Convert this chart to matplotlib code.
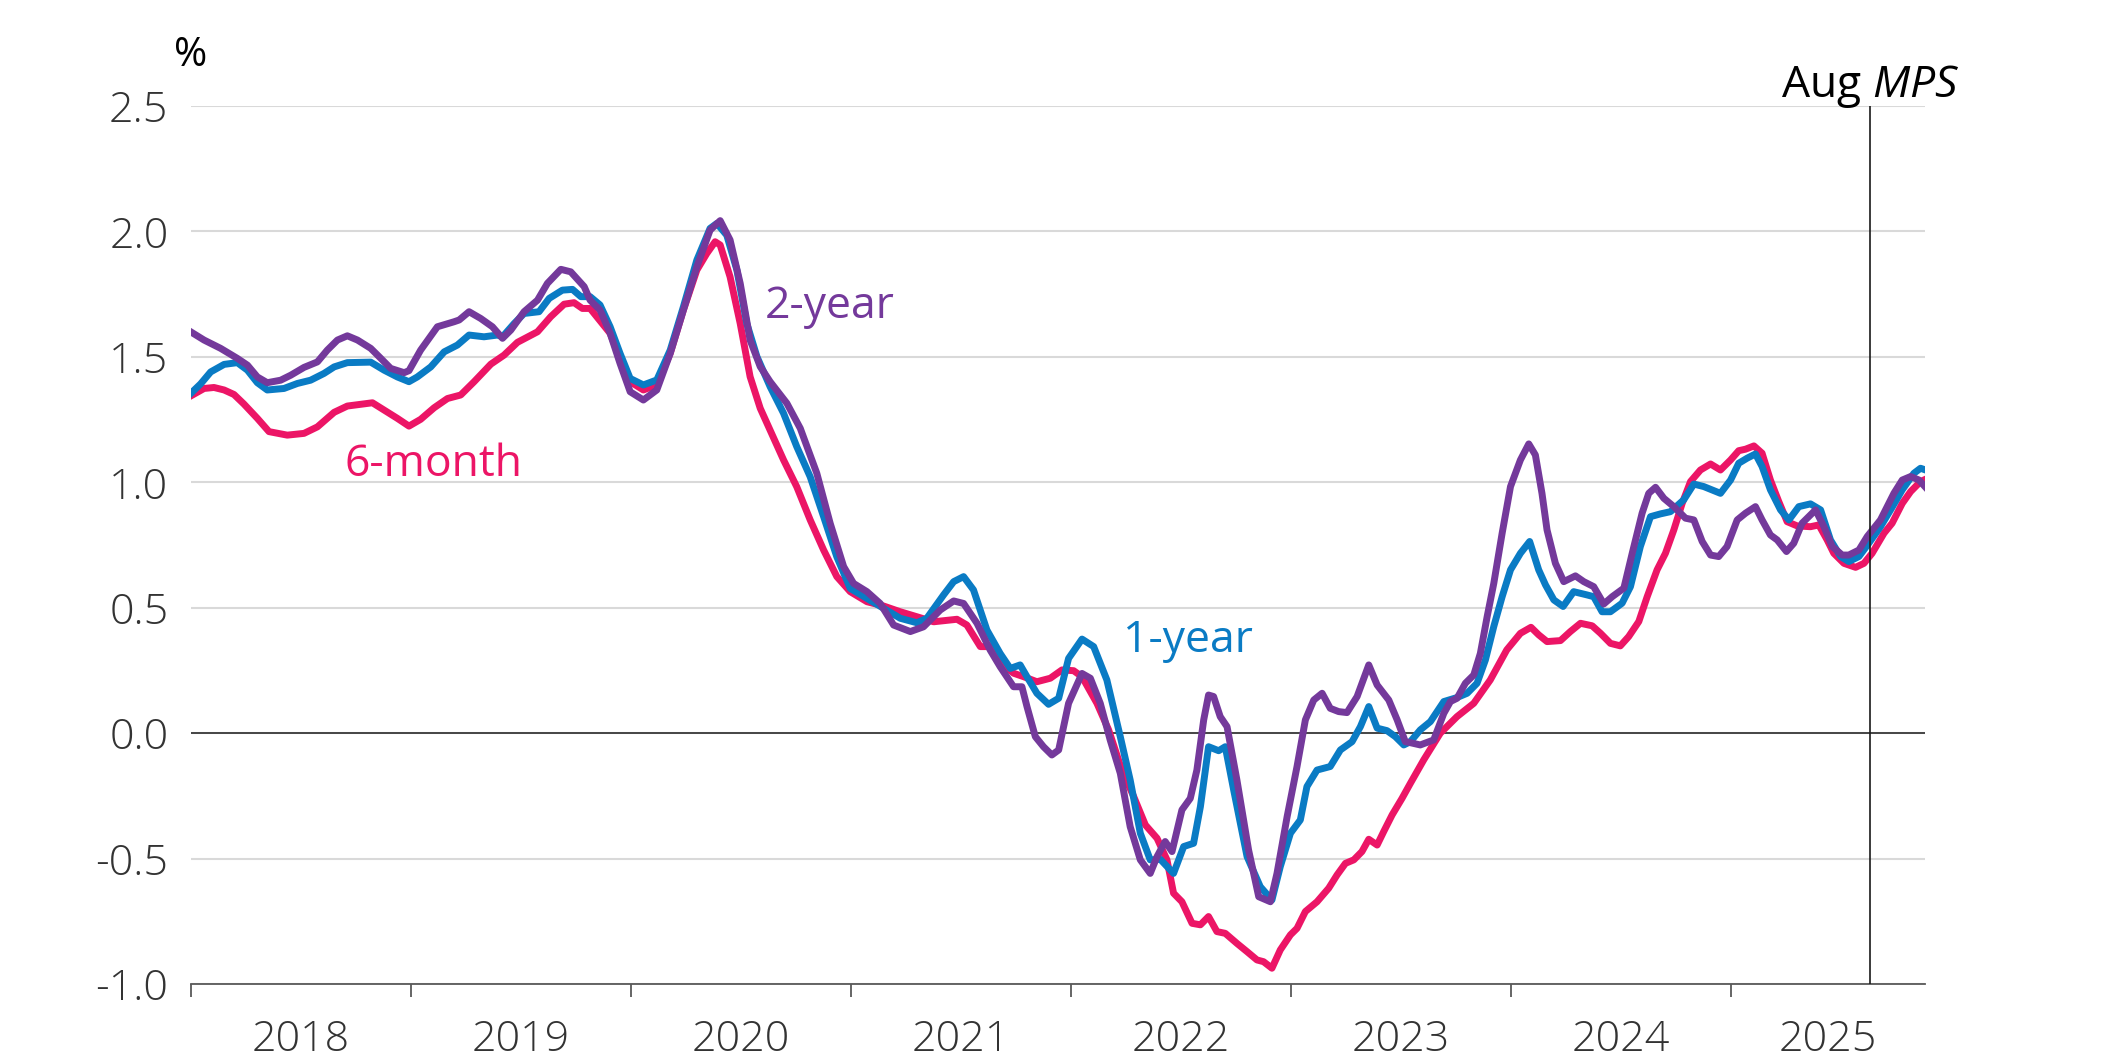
import matplotlib
matplotlib.use("Agg")
import matplotlib.pyplot as plt

plt.rcParams['font.family'] = ['Open Sans', 'DejaVu Sans']
plt.rcParams['mathtext.fontset'] = 'custom'
plt.rcParams['mathtext.rm'] = 'Open Sans'
plt.rcParams['mathtext.it'] = 'Open Sans:italic'

# 6-month series (decimal years, %)
t_6m = [2018.0, 2018.061, 2018.106, 2018.152, 2018.197, 2018.242, 2018.303, 2018.356, 2018.439, 2018.515,
        2018.576, 2018.652, 2018.712, 2018.826, 2018.879, 2018.939, 2018.992, 2019.045, 2019.106, 2019.167,
        2019.227, 2019.288, 2019.364, 2019.424, 2019.485, 2019.576, 2019.636, 2019.697, 2019.742, 2019.780,
        2019.815, 2019.906, 2019.951, 2019.997, 2020.057, 2020.118, 2020.179, 2020.239, 2020.300, 2020.345,
        2020.383, 2020.406, 2020.451, 2020.497, 2020.542, 2020.588, 2020.633, 2020.694, 2020.754, 2020.815,
        2020.876, 2020.936, 2020.997, 2021.073, 2021.148, 2021.224, 2021.300, 2021.376, 2021.482, 2021.527,
        2021.588,
        2021.633, 2021.694, 2021.739, 2021.785, 2021.845, 2021.906, 2021.959, 2022.012, 2022.050, 2022.118,
        2022.171, 2022.231, 2022.285, 2022.338, 2022.391, 2022.436, 2022.466, 2022.504, 2022.550, 2022.588,
        2022.625, 2022.663, 2022.701, 2022.754, 2022.800, 2022.845, 2022.875, 2022.913, 2022.951, 2022.997,
        2023.027, 2023.065, 2023.118, 2023.171, 2023.209, 2023.247, 2023.285, 2023.322, 2023.353, 2023.391,
        2023.421, 2023.459, 2023.504, 2023.542,
        2023.603, 2023.678, 2023.754, 2023.830, 2023.905, 2023.980,
        2024.042, 2024.090, 2024.125, 2024.163, 2024.224, 2024.269, 2024.315, 2024.368, 2024.406, 2024.451,
        2024.496, 2024.534, 2024.580, 2024.618, 2024.663, 2024.701, 2024.739, 2024.777, 2024.815, 2024.860,
        2024.906, 2024.951, 2024.997, 2025.034, 2025.065, 2025.103, 2025.140, 2025.178, 2025.216, 2025.254,
        2025.300, 2025.360, 2025.398, 2025.436, 2025.466, 2025.512, 2025.565, 2025.603, 2025.640, 2025.694,
        2025.731, 2025.777, 2025.815, 2025.860, 2025.875]
v_6m = [1.344, 1.374, 1.378, 1.368, 1.35, 1.312, 1.255, 1.202, 1.188, 1.195,
        1.221, 1.279, 1.304, 1.317, 1.288, 1.255, 1.224, 1.251, 1.297, 1.334,
        1.348, 1.401, 1.471, 1.507, 1.558, 1.60, 1.66, 1.71, 1.716, 1.693,
        1.693, 1.594, 1.494, 1.401, 1.368, 1.388, 1.514, 1.687, 1.846, 1.912,
        1.959, 1.946, 1.819, 1.633, 1.421, 1.295, 1.208, 1.089, 0.982, 0.85,
        0.73, 0.624, 0.564, 0.524, 0.507, 0.484, 0.464, 0.444, 0.454, 0.431,
        0.345,
        0.345, 0.272, 0.239, 0.225, 0.205, 0.219, 0.252, 0.249, 0.225, 0.119,
        0.013, -0.147, -0.253, -0.366, -0.419, -0.505, -0.638, -0.672, -0.758, -0.764,
        -0.731, -0.791, -0.798, -0.838, -0.871, -0.904, -0.911, -0.937, -0.864, -0.804,
        -0.778, -0.711, -0.672, -0.618, -0.565, -0.519, -0.505, -0.472, -0.423, -0.446,
        -0.392, -0.326, -0.26, -0.2,
        -0.106, 0.0, 0.066, 0.119, 0.212, 0.332,
        0.398, 0.422, 0.392, 0.365, 0.369, 0.405, 0.438, 0.428, 0.398, 0.358,
        0.348, 0.385, 0.445, 0.544, 0.651, 0.717, 0.81, 0.916, 1.003, 1.049,
        1.073, 1.049, 1.089, 1.126, 1.132, 1.145, 1.116, 1.009, 0.923, 0.843,
        0.826, 0.823, 0.83, 0.77, 0.717, 0.677, 0.661, 0.677, 0.717, 0.797,
        0.837, 0.916, 0.963, 1.003, 1.009]

# 1-year series
t_1y = [2018.0, 2018.045, 2018.091, 2018.152, 2018.212, 2018.258, 2018.303, 2018.348, 2018.424, 2018.485,
        2018.545, 2018.606, 2018.652, 2018.712, 2018.818, 2018.879, 2018.939, 2018.992, 2019.030, 2019.091,
        2019.152, 2019.212, 2019.265, 2019.333, 2019.394, 2019.417, 2019.470, 2019.515, 2019.583, 2019.629,
        2019.689, 2019.735, 2019.773,
        2019.815, 2019.860, 2019.906, 2019.951, 2019.997, 2020.057, 2020.118, 2020.179, 2020.239, 2020.300,
        2020.360, 2020.391, 2020.436, 2020.482, 2020.527, 2020.573, 2020.633, 2020.694, 2020.754, 2020.815,
        2020.876, 2020.936, 2020.997, 2021.073, 2021.148, 2021.224, 2021.300, 2021.345, 2021.421, 2021.467,
        2021.512, 2021.557, 2021.618,
        2021.678, 2021.724, 2021.769, 2021.800, 2021.845, 2021.898, 2021.944, 2021.989, 2022.050, 2022.103,
        2022.163, 2022.224, 2022.269, 2022.315, 2022.360, 2022.406, 2022.466, 2022.512, 2022.557, 2022.588,
        2022.625, 2022.671, 2022.701, 2022.739, 2022.800, 2022.860, 2022.913, 2022.951, 2022.997, 2023.042,
        2023.072, 2023.118, 2023.178, 2023.224, 2023.277, 2023.315, 2023.353, 2023.391, 2023.436, 2023.474,
        2023.512, 2023.542,
        2023.587, 2023.633, 2023.694, 2023.754, 2023.800, 2023.845, 2023.883, 2023.921, 2023.959, 2023.997,
        2024.042, 2024.084, 2024.125, 2024.156, 2024.194, 2024.236, 2024.284, 2024.345, 2024.375, 2024.413,
        2024.451, 2024.504, 2024.542, 2024.587, 2024.633, 2024.678, 2024.724, 2024.784, 2024.830, 2024.875,
        2024.951, 2024.997, 2025.034, 2025.072, 2025.110, 2025.140, 2025.178, 2025.224, 2025.262, 2025.307,
        2025.360, 2025.406, 2025.451, 2025.497, 2025.534, 2025.580, 2025.625, 2025.678, 2025.724, 2025.777,
        2025.830, 2025.860, 2025.883]
v_1y = [1.354, 1.392, 1.44, 1.47, 1.477, 1.447, 1.397, 1.368, 1.374, 1.394,
        1.407, 1.434, 1.46, 1.477, 1.479, 1.447, 1.42, 1.401, 1.42, 1.46,
        1.52, 1.547, 1.587, 1.58, 1.587, 1.58, 1.633, 1.673, 1.68, 1.733,
        1.766, 1.769, 1.74,
        1.74, 1.707, 1.62, 1.514, 1.414, 1.388, 1.408, 1.527, 1.70, 1.886,
        2.012, 2.032, 1.985, 1.846, 1.633, 1.501, 1.381, 1.275, 1.142, 1.022,
        0.863, 0.703, 0.577, 0.537, 0.498, 0.458, 0.44, 0.458, 0.551, 0.604,
        0.624, 0.571, 0.411,
        0.318, 0.258, 0.272, 0.225, 0.159, 0.115, 0.139, 0.298, 0.375, 0.345,
        0.212, -0.014, -0.187, -0.399, -0.505, -0.503, -0.559, -0.452, -0.439, -0.293,
        -0.054, -0.07, -0.054, -0.226, -0.492, -0.612, -0.665, -0.532, -0.399, -0.346,
        -0.213, -0.147, -0.133, -0.067, -0.034, 0.026, 0.106, 0.02, 0.01, -0.014,
        -0.047, -0.034,
        0.013, 0.046, 0.126, 0.142, 0.159, 0.199, 0.292, 0.425, 0.544, 0.651,
        0.717, 0.764, 0.651, 0.591, 0.531, 0.505, 0.564, 0.551, 0.544, 0.484,
        0.484, 0.518, 0.584, 0.744, 0.863, 0.874, 0.883, 0.93, 0.993, 0.983,
        0.956, 1.009, 1.076, 1.096, 1.113, 1.063, 0.97, 0.89, 0.85, 0.903,
        0.914, 0.89, 0.77, 0.704, 0.684, 0.704, 0.757, 0.823, 0.89, 0.97,
        1.036, 1.056, 1.049]

# 2-year series
t_2y = [2018.0, 2018.061, 2018.136, 2018.212, 2018.258, 2018.303, 2018.348, 2018.409, 2018.455, 2018.515,
        2018.576, 2018.621, 2018.667, 2018.712, 2018.758, 2018.818, 2018.864, 2018.909, 2018.970, 2018.992,
        2019.045, 2019.121, 2019.197, 2019.220, 2019.265, 2019.318, 2019.371, 2019.417, 2019.455, 2019.515,
        2019.576, 2019.621, 2019.682, 2019.727, 2019.788,
        2019.815, 2019.860, 2019.906, 2019.951, 2019.997, 2020.057, 2020.118, 2020.179, 2020.239, 2020.300,
        2020.360, 2020.406, 2020.451, 2020.497, 2020.542, 2020.588, 2020.633, 2020.709, 2020.770, 2020.845,
        2020.906, 2020.967, 2021.012, 2021.073, 2021.133, 2021.194, 2021.270, 2021.330, 2021.406, 2021.467,
        2021.512, 2021.573, 2021.633,
        2021.678, 2021.739, 2021.777, 2021.800, 2021.838, 2021.875, 2021.913, 2021.944, 2021.989, 2022.050,
        2022.088, 2022.133, 2022.178, 2022.224, 2022.269, 2022.315, 2022.360, 2022.391, 2022.428, 2022.459,
        2022.504, 2022.542, 2022.572, 2022.603, 2022.625, 2022.648, 2022.678, 2022.709, 2022.754, 2022.807,
        2022.853, 2022.906, 2022.936, 2022.982, 2023.027, 2023.065, 2023.103, 2023.141, 2023.178, 2023.216,
        2023.254, 2023.300, 2023.353, 2023.391, 2023.444, 2023.482, 2023.519, 2023.542,
        2023.587, 2023.648, 2023.694, 2023.724, 2023.754, 2023.792, 2023.830, 2023.860, 2023.891, 2023.921,
        2023.959, 2023.997, 2024.042, 2024.080, 2024.110, 2024.140, 2024.163, 2024.201, 2024.239, 2024.292,
        2024.330, 2024.375, 2024.421, 2024.459, 2024.512, 2024.550, 2024.595, 2024.625, 2024.656, 2024.694,
        2024.739, 2024.792, 2024.830, 2024.868, 2024.906, 2024.943, 2024.981, 2025.027, 2025.065, 2025.110,
        2025.140, 2025.178, 2025.209, 2025.251, 2025.284, 2025.322, 2025.383, 2025.421, 2025.459, 2025.504,
        2025.534, 2025.580, 2025.618, 2025.678, 2025.739, 2025.777, 2025.815, 2025.853, 2025.883]
v_2y = [1.60, 1.567, 1.534, 1.494, 1.467, 1.42, 1.397, 1.407, 1.427, 1.458,
        1.48, 1.527, 1.567, 1.584, 1.567, 1.534, 1.494, 1.454, 1.437, 1.445,
        1.527, 1.62, 1.64, 1.647, 1.68, 1.653, 1.62, 1.574, 1.607, 1.68,
        1.726, 1.793, 1.849, 1.839, 1.78,
        1.726, 1.687, 1.594, 1.474, 1.361, 1.328, 1.368, 1.514, 1.687, 1.859,
        2.005, 2.043, 1.966, 1.793, 1.567, 1.461, 1.401, 1.315, 1.215, 1.036,
        0.836, 0.664, 0.597, 0.564, 0.517, 0.431, 0.405, 0.424, 0.491, 0.527,
        0.517, 0.438, 0.331,
        0.265, 0.185, 0.185, 0.106, -0.014, -0.054, -0.087, -0.067, 0.119, 0.238,
        0.219, 0.119, -0.027, -0.16, -0.373, -0.505, -0.559, -0.492, -0.432, -0.472,
        -0.306, -0.26, -0.147, 0.053, 0.152, 0.146, 0.066, 0.026, -0.187, -0.466,
        -0.652, -0.672, -0.559, -0.333, -0.133, 0.053, 0.132, 0.159, 0.099, 0.086,
        0.082, 0.146, 0.272, 0.192, 0.132, 0.053, -0.034, -0.038,
        -0.047, -0.027, 0.079, 0.126, 0.139, 0.199, 0.232, 0.318, 0.465, 0.597,
        0.797, 0.983, 1.089, 1.153, 1.109, 0.956, 0.81, 0.677, 0.604, 0.627,
        0.604, 0.584, 0.515, 0.544, 0.578, 0.717, 0.877, 0.956, 0.98, 0.936,
        0.903, 0.857, 0.85, 0.764, 0.71, 0.704, 0.744, 0.85, 0.877, 0.903,
        0.85, 0.79, 0.77, 0.724, 0.757, 0.837, 0.89, 0.823, 0.744, 0.71,
        0.71, 0.73, 0.784, 0.85, 0.956, 1.009, 1.023, 1.009, 0.98]

years = ['2018', '2019', '2020', '2021', '2022', '2023', '2024', '2025']
y_ticks = [-1.0, -0.5, 0.0, 0.5, 1.0, 1.5, 2.0, 2.5]
x_end = 2025.88
mps_date = 2025.63  # August 2025 MPS

PINK = '#EC1566'
BLUE = '#0A7BC4'
PURPLE = '#74399B'


def main():
    fig = plt.figure(figsize=(21.16, 10.59), dpi=100)
    ax = fig.add_axes([0.0901, 0.0708, 0.8196, 0.8291])

    ax.plot(t_6m, v_6m, color=PINK, lw=5.0, solid_joinstyle='round', zorder=3)
    ax.plot(t_1y, v_1y, color=BLUE, lw=5.0, solid_joinstyle='round', zorder=4)
    ax.plot(t_2y, v_2y, color=PURPLE, lw=5.0, solid_joinstyle='round', zorder=5)

    ax.set_xlim(2018, x_end)
    ax.set_ylim(-1.0, 2.5)

    # y axis: gridlines, no ticks
    ax.set_yticks(y_ticks)
    ax.set_yticklabels([f"{v:.1f}" for v in y_ticks])
    ax.yaxis.grid(True, color='#d9d9d9', lw=1.5)
    ax.tick_params(axis='y', length=0, pad=16, labelsize=31, labelcolor='#333333')
    ax.axhline(0, color='#3a3a3a', lw=1.3, zorder=2)

    # x axis: ticks at year boundaries, labels centred in each year
    first = int(years[0])
    ax.set_xticks([first + i for i in range(len(years))])
    ax.set_xticklabels([])
    mids = [(first + i + min(first + i + 1, x_end)) / 2 for i in range(len(years))]
    ax.set_xticks(mids, minor=True)
    ax.set_xticklabels(years, minor=True)
    ax.tick_params(axis='x', which='major', length=9, width=1.3, color='#595959', direction='out')
    ax.tick_params(axis='x', which='minor', length=0, pad=25, labelsize=31, labelcolor='#333333')

    for s in ['top', 'right', 'left']:
        ax.spines[s].set_visible(False)
    ax.spines['bottom'].set_color('#595959')
    ax.spines['bottom'].set_linewidth(1.3)

    for lab in ax.get_yticklabels() + ax.get_xticklabels(minor=True):
        lab.set_fontweight('light')

    # Aug MPS marker
    ax.axvline(mps_date, color='#1a1a1a', lw=1.2, zorder=6)
    ax.text(mps_date, 2.536, 'Aug $\\mathit{MPS}$', ha='center', va='baseline',
            fontsize=32, color='black')

    ax.text(2018.0, 2.66, '%', ha='center', va='baseline', fontsize=29, color='black')

    # series labels
    ax.text(2020.61, 1.655, '2-year', color=PURPLE, fontsize=32, va='baseline')
    ax.text(2018.697, 1.025, '6-month', color=PINK, fontsize=32, va='baseline')
    ax.text(2022.238, 0.324, '1-year', color=BLUE, fontsize=32, va='baseline')

    fig.savefig("out.png", dpi=100)


if __name__ == "__main__":
    main()
